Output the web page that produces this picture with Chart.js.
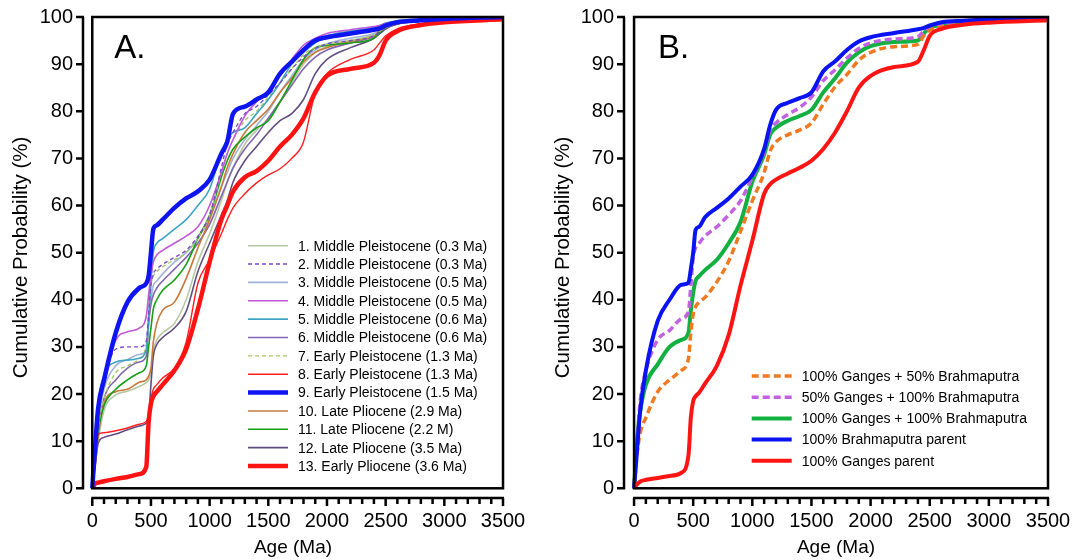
<!DOCTYPE html>
<html>
<head>
<meta charset="utf-8">
<script src="https://cdn.jsdelivr.net/npm/chart.js@4.4.1/dist/chart.umd.min.js"></script>
<style>
  html, body { margin: 0; padding: 0; background: #fff; }
  .panel { position: absolute; top: 0; width: 542px; height: 560px; }
  #wrapA { left: 0; }
  #wrapB { left: 542px; }
</style>
</head>
<body>
<div class="panel" id="wrapA"><canvas id="chartA" width="542" height="560"></canvas></div>
<div class="panel" id="wrapB"><canvas id="chartB" width="542" height="560"></canvas></div>
<script>
'use strict';

// Age grid (Ma) shared by all curves
const ages = [0, 25, 50, 100, 200, 300, 400, 460, 480, 500, 520, 550, 600, 700, 800, 900, 1000, 1100, 1150, 1200,
  1300, 1400, 1500, 1600, 1700, 1800, 1900, 2000, 2200, 2400, 2450, 2500, 2600, 2800, 3000, 3500];

// Panel A: cumulative probability (%) per sample
const midPleist1 = [0, 5, 10, 16.5, 19.8, 20.6, 21.6, 22.4, 23, 24.5, 29, 31.5, 33, 35, 40, 48, 54, 61, 65, 68,
  73, 76, 78.5, 82, 86, 90, 92.5, 93.8, 95, 96.3, 97, 97.8, 98.6, 99.2, 99.5, 100];
const midPleist2 = [0, 8, 16, 23, 29.5, 30, 30, 31.2, 37, 43, 45.5, 46.5, 47.5, 49, 50.5, 53.5, 58, 68, 73, 75.5,
  79.5, 81, 83.5, 86, 89, 91.5, 93.3, 94.3, 95, 96, 97, 97.8, 98.7, 99.2, 99.5, 100];
const midPleist3 = [0, 7, 14, 21, 26, 27.3, 28.4, 29, 35, 40, 43, 44, 45.5, 48, 50, 53, 57.5, 64, 67, 70,
  74, 77, 80, 84, 87.5, 91, 93, 94.3, 95.5, 96.5, 97.2, 98, 98.8, 99.3, 99.6, 100];
const midPleist4 = [0, 8, 15, 22, 31.4, 33.2, 34, 36.5, 41, 45, 48, 49.5, 50.5, 52, 53.5, 55.5, 60, 67, 71, 74,
  79, 82, 84.5, 87.5, 91, 94, 95.5, 96.5, 97.3, 98, 98.2, 98.6, 99, 99.4, 99.6, 100];
const midPleist5 = [0, 9, 18, 24, 26.8, 27.2, 27.6, 29.5, 36, 44, 50, 52, 53, 55, 57, 60, 63.5, 71.5, 74, 75.5,
  76.5, 79.5, 82.5, 86, 90, 92.5, 94.5, 96, 97, 97.8, 98.2, 98.7, 99.2, 99.5, 99.7, 100];
const midPleist6 = [0, 6, 12, 19, 23, 25.5, 26.8, 28, 35, 39, 41, 42.5, 44, 46.5, 49, 52, 56, 62, 65, 68,
  72, 75, 78.5, 82, 85.5, 89, 91.5, 93, 94.5, 95.8, 96.5, 97.5, 98.5, 99.1, 99.5, 100];
const earlyPleist7 = [0, 7, 13, 19, 24.5, 26, 27.5, 30.5, 36, 43, 45, 46, 47, 48.5, 50, 53, 58, 67, 71, 74,
  78, 80, 83, 86, 89, 92, 93.5, 94.2, 95, 96.2, 97, 97.8, 98.6, 99.2, 99.5, 100];
const earlyPleist8 = [0, 6, 11.5, 11.8, 12.2, 12.8, 13.6, 14.2, 15.8, 19, 21, 22, 23.4, 25.5, 31, 43.5, 48.5, 54, 57, 59.5,
  62.5, 64.8, 66.5, 67.8, 70, 73.5, 84, 88, 91, 93, 94.5, 96, 97.5, 98.5, 99, 99.6];
const earlyPleist9 = [0, 9, 17, 23, 33, 39.5, 42.5, 43.5, 45, 50, 55, 55.8, 57, 59.5, 61.5, 63, 65.5, 71, 73.5, 79.5,
  81, 82.5, 84, 88, 90.5, 93, 95, 95.7, 96.5, 97.3, 97.6, 98.2, 98.9, 99.3, 99.6, 100];
const latePlio10 = [0, 5, 11, 18, 20.5, 21, 22.5, 23, 23.8, 25.5, 31, 35, 37.8, 39.5, 44.5, 51, 57, 64, 68, 71,
  75.5, 78, 80.5, 84, 87, 90.5, 92.5, 93.5, 94.8, 96, 97, 97.8, 98.6, 99.2, 99.5, 100];
const latePlio11 = [0, 6, 12, 17.5, 21, 23, 24.5, 26, 30, 34, 38, 40, 42, 44.2, 47.5, 53, 58, 66, 69.5, 72,
  74.5, 76.5, 78, 82, 86.5, 91, 93.5, 94, 94.5, 95.5, 96.8, 97.8, 98.7, 99.2, 99.5, 100];
const latePlio12 = [0, 5, 9.5, 10.8, 11.5, 12.4, 13.2, 13.8, 15, 22, 28, 30.5, 32, 34, 37.5, 46, 52, 58, 61, 65,
  69.5, 72.5, 75.5, 78, 79.5, 82.5, 88, 91, 93.5, 95.5, 96.5, 97.5, 98.5, 99.1, 99.5, 100];
const earlyPlio13 = [0, 1, 1.2, 1.5, 2, 2.4, 3, 4.5, 14, 18, 19.5, 20.5, 22, 25, 29.5, 38, 48, 57, 60, 63,
  66, 67.3, 69.5, 72.5, 75, 78.5, 84, 87.5, 89, 90.3, 92, 95, 97, 98.3, 98.9, 99.5];

const labelsA = [
  '1. Middle Pleistocene (0.3 Ma)', '2. Middle Pleistocene (0.3 Ma)', '3. Middle Pleistocene (0.5 Ma)',
  '4. Middle Pleistocene (0.5 Ma)', '5. Middle Pleistocene (0.6 Ma)', '6. Middle Pleistocene (0.6 Ma)',
  '7. Early Pleistocene (1.3 Ma)', '8. Early Pleistocene (1.3 Ma)', '9. Early Pleistocene (1.5 Ma)',
  '10. Late Pliocene (2.9 Ma)', '11. Late Pliocene (2.2 M)', '12. Late Pliocene (3.5 Ma)', '13. Early Pliocene (3.6 Ma)'
];

// Panel B: mixing models
const ganges100brahma50 = [0, 7, 11.5, 15, 20.5, 23, 25, 27.5, 33, 37, 38.5, 39.5, 40.5, 43.8, 48.2, 54.5, 61, 67, 71.5, 73.5,
  75, 76, 77.5, 81.5, 85.2, 87.8, 90.8, 92.5, 93.7, 94.2, 96, 97.2, 98, 98.8, 99.2, 99.5];
const ganges50brahma100 = [0, 9, 18, 25, 31.5, 33.5, 36, 37.5, 43, 49, 51, 52, 53.5, 55.5, 58, 61, 66, 71.5, 76, 77.5,
  79.3, 80.8, 83, 86.5, 88.8, 91.3, 93.3, 94.5, 95.3, 95.8, 97, 98, 98.6, 99.2, 99.4, 99.7];
const ganges100brahma100 = [0, 10, 16, 22, 26.3, 30, 31.5, 33, 37.8, 41.5, 44, 45, 46.3, 48.5, 52, 56.5, 65, 70.8, 75, 76.5,
  78, 79, 80.3, 84, 87, 90.3, 92.5, 93.8, 94.7, 95, 96.5, 97.7, 98.3, 99, 99.3, 99.6];
const brahmaParent = [0, 8, 16, 25, 35.5, 40, 43.2, 43.6, 46.5, 50, 54.8, 55.5, 57.5, 59.5, 61.5, 64, 66.5, 72, 77, 80.3,
  81.8, 82.8, 84, 88.5, 90.6, 93, 94.8, 95.7, 96.6, 97.4, 97.7, 98.2, 98.9, 99.2, 99.5, 99.9];
const gangesParent = [0, 0.8, 1.4, 1.8, 2.2, 2.6, 3.3, 7, 15, 18.5, 19.5, 20.3, 22.2, 26, 32.5, 43, 52.5, 62.5, 64.5, 65.5,
  66.8, 68, 69.5, 72, 75.5, 80, 85, 87.5, 89.4, 90.5, 93, 96, 97.5, 98.4, 98.8, 99.3];

const labelsB = [
  '100% Ganges + 50% Brahmaputra', '50% Ganges + 100% Brahmaputra', '100% Ganges + 100% Brahmaputra',
  '100% Brahmaputra parent', '100% Ganges parent'
];

const yTicks = [0, 10, 20, 30, 40, 50, 60, 70, 80, 90, 100];
const xLabels = [0, 500, 1000, 1500, 2000, 2500, 3000, 3500];
const xTicks = [];
for (let v = 0; v <= 3500; v += 100) xTicks.push(v);

const fontFamily = '"Liberation Sans", Arial, Helvetica, sans-serif';

function pts(values) {
  return ages.map(function (a, i) {
    return { x: a, y: values[i] };
  });
}

function curve(label, values, color, width, dash, order) {
  return {
    label: label,
    data: pts(values),
    borderColor: color,
    backgroundColor: color,
    borderWidth: width,
    borderDash: dash || [],
    pointRadius: 0,
    cubicInterpolationMode: 'monotone',
    fill: false,
    order: order
  };
}

// Detached axes, plot box, panel letter and legend
const framePlugin = {
  id: 'frame',
  afterDraw(chart, args, opts) {
    const { ctx, chartArea: a } = chart;
    const x = chart.scales.x, y = chart.scales.y;
    const x0 = x.getPixelForValue(0), x1 = x.getPixelForValue(3500);
    const y0 = y.getPixelForValue(0), y1 = y.getPixelForValue(100);
    ctx.save();
    ctx.strokeStyle = '#000';
    ctx.lineWidth = 2.5;
    ctx.setLineDash([]);
    ctx.strokeRect(x0, y1, x1 - x0, y0 - y1);

    ctx.beginPath();
    ctx.moveTo(a.left, y0 + 1);
    ctx.lineTo(a.left, y1);
    yTicks.forEach(function (v) {
      const p = y.getPixelForValue(v);
      ctx.moveTo(a.left + 1, p);
      ctx.lineTo(a.left - 7, p);
    });
    ctx.moveTo(x0 - 1, a.bottom);
    ctx.lineTo(x1 + 1, a.bottom);
    xTicks.forEach(function (v) {
      const p = x.getPixelForValue(v);
      ctx.moveTo(p, a.bottom);
      ctx.lineTo(p, a.bottom + (v % 500 ? 6 : 8));
    });
    ctx.stroke();

    ctx.fillStyle = '#000';
    ctx.font = '33px ' + fontFamily;
    ctx.textBaseline = 'alphabetic';
    ctx.fillText(opts.letter, x0 + opts.letterDx, 58);

    // legend
    ctx.font = '14px ' + fontFamily;
    ctx.textBaseline = 'middle';
    chart.data.datasets.forEach(function (ds, i) {
      const ly = opts.legY + i * opts.legStep;
      ctx.beginPath();
      ctx.strokeStyle = ds.borderColor;
      ctx.lineWidth = ds.borderWidth;
      ctx.setLineDash(ds.borderDash);
      ctx.moveTo(opts.legX, ly);
      ctx.lineTo(opts.legX + 40, ly);
      ctx.stroke();
      ctx.setLineDash([]);
      ctx.fillText(ds.label, opts.legX + 50, ly + 1);
    });
    ctx.restore();
  }
};

function makeOptions(xMin, yAxisWidth, rightPad, letter, letterDx, legX, legY, legStep) {
  return {
    responsive: false,
    animation: false,
    devicePixelRatio: 1,
    layout: { padding: { left: 0, top: 17, right: rightPad, bottom: 0 } },
    plugins: {
      legend: { display: false },
      tooltip: { enabled: false },
      frame: { letter: letter, letterDx: letterDx, legX: legX, legY: legY, legStep: legStep }
    },
    scales: {
      x: {
        type: 'linear',
        min: xMin,
        max: 3500,
        grid: { display: false },
        border: { display: false },
        afterBuildTicks: function (scale) {
          scale.ticks = xLabels.map(function (v) { return { value: v }; });
        },
        afterFit: function (scale) { scale.height = 62; },
        ticks: {
          autoSkip: false,
          maxRotation: 0,
          padding: 3,
          color: '#000',
          font: { family: fontFamily, size: 20 },
          callback: function (value) { return String(value); }
        },
        title: {
          display: true,
          text: 'Age (Ma)',
          color: '#000',
          font: { family: fontFamily, size: 19 },
          padding: { top: 0, bottom: 1 }
        }
      },
      y: {
        min: -2.06,
        max: 100,
        grid: { display: false },
        border: { display: false },
        afterBuildTicks: function (scale) {
          scale.ticks = yTicks.map(function (v) { return { value: v }; });
        },
        afterFit: function (scale) { scale.width = yAxisWidth; },
        ticks: {
          padding: 2,
          color: '#000',
          font: { family: fontFamily, size: 20 }
        },
        title: {
          display: true,
          text: 'Cumulative Probability (%)',
          color: '#000',
          font: { family: fontFamily, size: 20.5 },
          padding: { top: 9, bottom: 0 }
        }
      }
    }
  };
}

// Panel A
const chartA = document.getElementById('chartA');
if (chartA) {
  const chartAVar = new Chart(chartA, {
    type: 'line',
    data: {
      datasets: [
        curve(labelsA[0], midPleist1, '#B5C9A2', 1.6, null, 12),
        curve(labelsA[1], midPleist2, '#7A4CC8', 1.4, [4, 3], 3),
        curve(labelsA[2], midPleist3, '#A2B4D6', 1.6, null, 11),
        curve(labelsA[3], midPleist4, '#C25AD6', 1.6, null, 4),
        curve(labelsA[4], midPleist5, '#3FA4C4', 1.6, null, 5),
        curve(labelsA[5], midPleist6, '#8366B2', 1.6, null, 10),
        curve(labelsA[6], earlyPleist7, '#A6C866', 1.4, [4, 3], 6),
        curve(labelsA[7], earlyPleist8, '#FF1E1E', 1.4, null, 2),
        curve(labelsA[8], earlyPleist9, '#0F14F2', 4.5, null, 0),
        curve(labelsA[9], latePlio10, '#C8783A', 1.6, null, 8),
        curve(labelsA[10], latePlio11, '#15A015', 1.6, null, 7),
        curve(labelsA[11], latePlio12, '#604E82', 1.6, null, 9),
        curve(labelsA[12], earlyPlio13, '#FF1212', 4.5, null, 1)
      ]
    },
    options: makeOptions(-79, 83, 39, 'A.', 22, 248, 245.7, 18.36),
    plugins: [framePlugin]
  });
}

// Panel B
const chartB = document.getElementById('chartB');
if (chartB) {
  const chartBVar = new Chart(chartB, {
    type: 'line',
    data: {
      datasets: [
        curve(labelsB[0], ganges100brahma50, '#F07A22', 3.5, [7, 4], 3),
        curve(labelsB[1], ganges50brahma100, '#C262E0', 3.5, [7, 4], 2),
        curve(labelsB[2], ganges100brahma100, '#12B040', 4, null, 4),
        curve(labelsB[3], brahmaParent, '#0A14F2', 4, null, 1),
        curve(labelsB[4], gangesParent, '#FF1414', 4, null, 0)
      ]
    },
    options: makeOptions(-85, 82, 36, 'B.', 24, 209.7, 376, 21.2),
    plugins: [framePlugin]
  });
}
</script>
</body>
</html>
